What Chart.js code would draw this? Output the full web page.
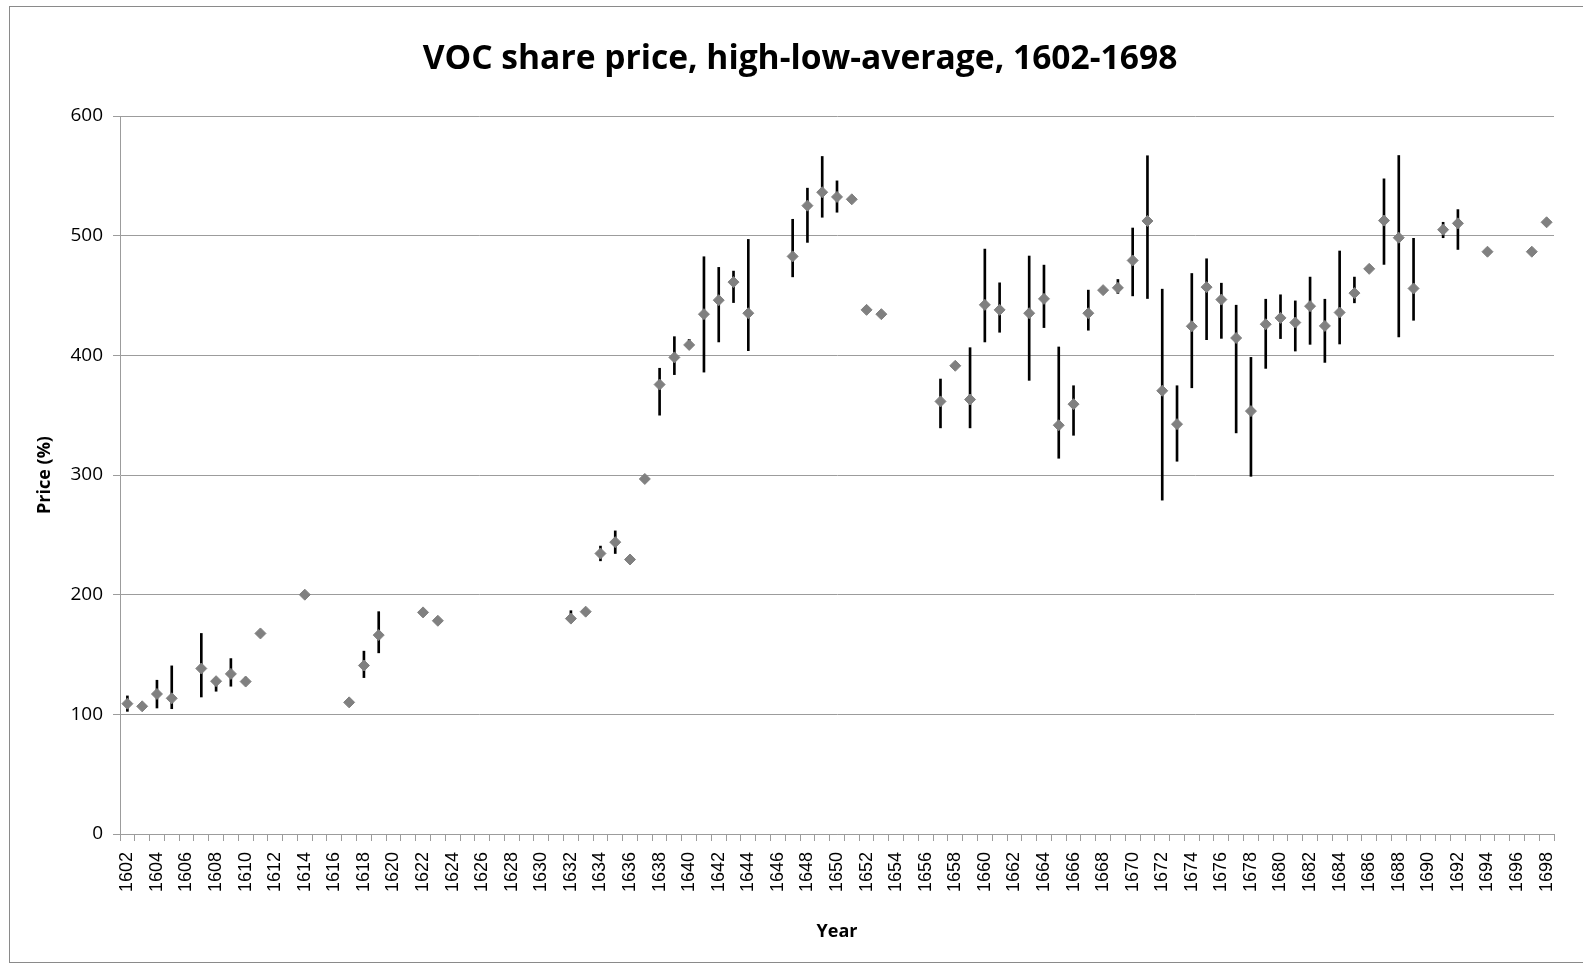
<!DOCTYPE html>
<html>
<head>
<meta charset="utf-8">
<script src="https://cdn.jsdelivr.net/npm/chart.js@4/dist/chart.umd.min.js"></script>
<style>
  html, body { margin: 0; padding: 0; background: #ffffff; overflow: hidden; }
  #wrap { position: relative; width: 1583px; height: 964px; overflow: hidden; }
  #c { position: absolute; left: 0; top: 0; }
  #frame { position: absolute; left: 9px; top: 6px; width: 1600px; height: 955px; border: 1px solid #8a8a8a; pointer-events: none; }
</style>
</head>
<body>
<div id="wrap">
  <canvas id="c" width="1583" height="964"></canvas>
  <div id="frame"></div>
</div>
<script>
const years = ["1602","1603","1604","1605","1606","1607","1608","1609","1610","1611","1612","1613","1614","1615","1616","1617","1618","1619","1620","1621","1622","1623","1624","1625","1626","1627","1628","1629","1630","1631","1632","1633","1634","1635","1636","1637","1638","1639","1640","1641","1642","1643","1644","1645","1646","1647","1648","1649","1650","1651","1652","1653","1654","1655","1656","1657","1658","1659","1660","1661","1662","1663","1664","1665","1666","1667","1668","1669","1670","1671","1672","1673","1674","1675","1676","1677","1678","1679","1680","1681","1682","1683","1684","1685","1686","1687","1688","1689","1690","1691","1692","1693","1694","1695","1696","1697","1698"];

// average price per year (null = no data)
const avgPrice = [
  108.9, 106.7, 117, 113.4, null, 138.3, 127.7, 133.8, 127.4, 167.6,   // 1602-1611
  null, null, 200, null, null, 110, 140.8, 166.2, null, null,           // 1612-1621
  185.2, 178.2, null, null, null, null, null, null, null, null,         // 1622-1631
  180, 185.8, 234.4, 243.9, 229.4, 296.7, 375.6, 398.3, 408.7, 434.4,   // 1632-1641
  446.1, 461.2, 435.2, null, null, 482.7, 525.1, 536.3, 532.4, 530.4,   // 1642-1651
  438, 434.4, null, null, null, 361.5, 391.3, 363.1, 442.2, 438,        // 1652-1661
  null, 435.2, 447.2, 341.6, 359.2, 435.2, 454.5, 456.4, 479.3, 512.3,  // 1662-1671
  370.4, 342.5, 424.3, 457, 446.6, 414.5, 353.4, 426, 431.3, 427.4,     // 1672-1681
  441.1, 424.6, 435.8, 452, 472.3, 512.6, 498.3, 455.9, null, 505,      // 1682-1691
  510.3, null, 486.6, null, null, 486.6, 511.2                          // 1692-1698
];

// yearly high (null = no range shown)
const highPrice = [
  115.4, null, 128.5, 140.5, null, 167.6, 130.5, 146.6, 131, null,
  null, null, null, null, null, null, 152.8, 185.8, null, null,
  null, null, null, null, null, null, null, null, null, null,
  186.6, null, 240.6, 253.3, null, null, 389.2, 415.6, 413.4, 482.4,
  473.5, 470.4, 496.9, null, null, 513.7, 539.7, 566.2, 545.8, null,
  null, null, null, null, null, 380.2, null, 406.4, 488.8, 460.6,
  null, 483, 475.4, 407, 374.6, 454.5, null, 463.4, 506.4, 566.8,
  455.3, 374.6, 468.4, 480.7, 460.3, 441.9, 398.3, 446.9, 450.6, 445.5,
  465.4, 446.9, 487.2, 465.4, null, 547.5, 567, 497.8, null, 511.2,
  521.8, null, null, null, null, null, null
];

// yearly low (null = no range shown)
const lowPrice = [
  102.5, null, 105.3, 104.7, null, 114.5, 119.3, 123.5, 125, null,
  null, null, null, null, null, null, 130.7, 151.4, null, null,
  null, null, null, null, null, null, null, null, null, null,
  178, null, 228.3, 234.4, null, null, 350, 383.9, 406, 386,
  411.2, 444.1, 403.9, null, null, 465.6, 494.4, 515.4, 519.6, null,
  null, null, null, null, null, 339.4, null, 339.4, 411.2, 419.3,
  null, 379.1, 423.2, 314, 333.2, 421, null, 451.7, 449.7, 447.5,
  279, 311.5, 372.9, 413.1, 414.2, 335.2, 298.9, 389.1, 414, 403.6,
  409.2, 394.1, 409.5, 443.9, null, 476, 415.4, 429.3, null, 498.3,
  488.5, null, null, null, null, null, null
];

const yTicks = [0, 100, 200, 300, 400, 500, 600];

const rangeData = highPrice.map((h, i) => (h === null || lowPrice[i] === null) ? null : [lowPrice[i], h]);

const gridColor = '#9c9c9c';
const padLeft = 46;

new Chart(document.getElementById('c'), {
  type: 'bar',
  data: {
    labels: years,
    datasets: [
      {
        type: 'line',
        label: 'Average',
        data: avgPrice,
        showLine: false,
        pointStyle: 'rectRot',
        pointRadius: 5.5,
        pointBorderWidth: 1,
        pointBackgroundColor: '#808080',
        pointBorderColor: '#808080',
        order: 0
      },
      {
        type: 'bar',
        label: 'High-Low',
        data: rangeData,
        backgroundColor: '#000000',
        borderWidth: 0,
        barThickness: 2,
        order: 1
      }
    ]
  },
  options: {
    responsive: false,
    animation: false,
    devicePixelRatio: 1,
    layout: { padding: { left: padLeft, right: 29, top: 0, bottom: 0 } },
    plugins: {
      legend: { display: false },
      tooltip: { enabled: false },
      title: {
        display: true,
        text: 'VOC share price, high-low-average, 1602-1698',
        color: '#000000',
        font: { family: '"Open Sans", sans-serif', size: 33.6, weight: 'bold', lineHeight: 1.2 },
        padding: { top: 39, bottom: 36.7 }
      }
    },
    scales: {
      x: {
        offset: true,
        afterFit: (s) => { s.height = 130; },
        grid: { display: true, drawOnChartArea: false, drawTicks: true, tickLength: 7, offset: true, color: gridColor },
        border: { display: true, color: gridColor },
        ticks: {
          autoSkip: false,
          maxRotation: 90,
          minRotation: 90,
          padding: 11,
          color: '#000000',
          font: { family: '"Liberation Sans", Arial, sans-serif', size: 18 },
          callback: function (value, index) { return index % 2 === 0 ? this.getLabelForValue(value) : ''; }
        },
        title: {
          display: true,
          text: 'Year',
          color: '#000000',
          font: { family: '"Open Sans", sans-serif', size: 18, weight: 'bold', lineHeight: 1.2 },
          padding: { top: 0, bottom: 21.6 }
        }
      },
      y: {
        min: 0,
        max: 600,
        afterFit: (s) => { s.width = 120 - padLeft; },
        afterBuildTicks: (s) => { s.ticks = yTicks.map(v => ({ value: v })); },
        grid: { display: true, drawTicks: true, tickLength: 7, color: gridColor },
        border: { display: true, color: gridColor },
        ticks: {
          padding: 10,
          color: '#000000',
          font: { family: '"Open Sans", sans-serif', size: 19 }
        },
        title: {
          display: true,
          text: 'Price (%)',
          color: '#000000',
          font: { family: '"Open Sans", sans-serif', size: 18, weight: 'bold', lineHeight: 1.2 },
          padding: { top: 45 - padLeft - 10.8, bottom: 0 }
        }
      }
    }
  }
});
</script>
</body>
</html>
